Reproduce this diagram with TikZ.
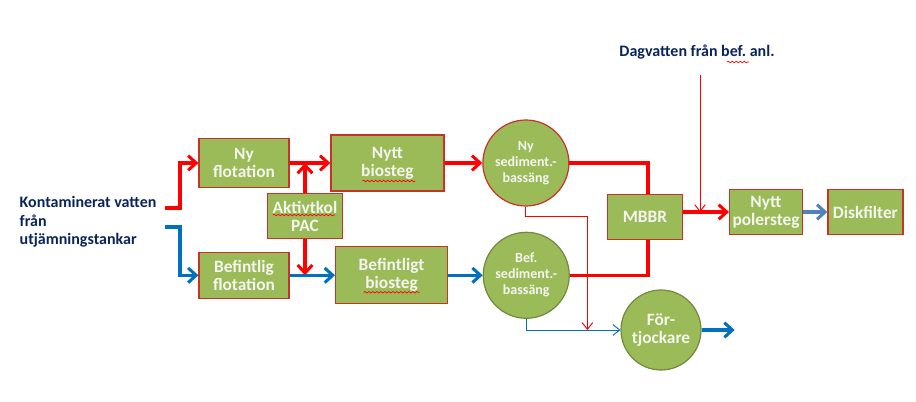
\documentclass[tikz,border=0pt]{standalone}
\usepackage{fontspec}
\setmainfont{Carlito}
\usepackage{tikz}
\usetikzlibrary{arrows.meta,positioning,calc,decorations.pathmorphing}
\frenchspacing
\definecolor{olive}{RGB}{155,187,89}
\definecolor{olivedark}{RGB}{113,137,63}
\definecolor{boxred}{RGB}{200,50,40}
\definecolor{flowred}{RGB}{255,0,0}
\definecolor{flowblue}{RGB}{0,112,192}
\definecolor{steel}{RGB}{79,129,189}
\definecolor{navy}{RGB}{10,35,90}
\definecolor{offwhite}{RGB}{245,245,240}
\tikzstyle{unit}=[draw=boxred, line width=0.9pt, fill=olive, text=offwhite, align=center, inner sep=0pt, font=\bfseries\fontsize{13}{13.5}\selectfont]
\tikzstyle{basin}=[circle, draw=olivedark, line width=0.9pt, fill=olive, text=offwhite, align=center, inner sep=0pt, minimum size=64.5pt, font=\bfseries\fontsize{10.5}{12}\selectfont]
\tikzstyle{label}=[text=navy, align=left, font=\bfseries\fontsize{12}{14}\selectfont]
\tikzstyle{redflow}=[draw=flowred, line width=2.3pt, -{Straight Barb[length=6pt,width=11pt]}]
\tikzstyle{blueflow}=[draw=flowblue, line width=2.3pt, -{Straight Barb[length=6pt,width=11pt]}]
\tikzstyle{thinred}=[draw=flowred, line width=0.7pt, -{Straight Barb[length=5pt,width=8pt]}]
\tikzstyle{thinblue}=[draw=flowblue, line width=0.7pt, -{Straight Barb[length=5pt,width=8pt]}]
\tikzstyle{squig}=[draw=red, line width=0.5pt, decorate, decoration={snake, segment length=3pt, amplitude=0.6pt}]

\begin{document}
\begin{tikzpicture}[x=0.75pt,y=-0.75pt]
    \useasboundingbox (0,0) rectangle (916,402);
    % upper line (new plant)
    \node [unit, minimum width=67.5pt, minimum height=36.75pt] (nyflot) at (244,163) {Ny\\flotation};
    \node [unit, minimum width=84.75pt, minimum height=42pt] (nybio) [right of=nyflot,node distance=3.78cm] {Nytt\\biosteg};
    \node [basin, draw=boxred] (nysed) [right of=nybio,node distance=3.65cm] {Ny\\sediment.-\\bassäng};
    % lower line (existing plant)
    \node [unit, minimum width=67.5pt, minimum height=34.5pt] (befflot) [below of=nyflot,node distance=2.96cm] {Befintlig\\flotation};
    \node [unit, minimum width=84pt, minimum height=42.75pt] (befbio) [right of=befflot,node distance=3.89cm] {Befintligt\\biosteg};
    \node [basin] (befsed) [right of=befbio,node distance=3.55cm] {Bef.\\sediment.-\\bassäng};
    \node [unit, minimum width=56.25pt, minimum height=33.75pt] (pac) at (305,216) {Aktivtkol\\PAC};
    % common part
    \node [unit, minimum width=56.25pt, minimum height=33.75pt] (mbbr) at (645,217) {MBBR};
    \node [unit, minimum width=54.75pt, minimum height=33.75pt] (poler) at (766,212) {Nytt\\polersteg};
    \node [unit, minimum width=56.25pt, minimum height=33.75pt] (disk) [right of=poler,node distance=2.62cm] {Diskfilter};
    \node [basin, minimum size=60pt, font=\bfseries\fontsize{13}{13.5}\selectfont] (fortj) at (661,330) {För-\\tjockare};
    \node [label, anchor=west] (inflow) at (15,222) {Kontaminerat vatten\\från\\utjämningstankar};
    \node [label] (dagv) at (697,52) {Dagvatten från bef. anl.};
    \coordinate (inred) at (165,208);
    \coordinate (inblue) at (165,227);
    \coordinate (dagtop) at (700,75);
    \coordinate (sludge) at ($(fortj.east)+(33,0)$);
    % flows
    \path[redflow] (inred) -- ++(15,0) |- (nyflot.west);
    \path[blueflow] (inblue) -- ++(15,0) |- (befflot.west);
    \path[redflow] (nyflot) -- (nybio);
    \path[redflow] (pac.north) -- (pac.north |- nyflot);
    \path[redflow] (pac.south) -- (pac.south |- befflot);
    \path[blueflow] (befflot) -- (befbio);
    \path[redflow] (nybio) -- (nysed);
    \path[blueflow] (befbio.east |- befsed) -- (befsed);
    \path[draw=flowred, line width=2.3pt] (nysed.east) -| ($(mbbr.north)+(3,0)$);
    \path[draw=flowred, line width=2.3pt] (befsed.east) -| ($(mbbr.south)+(3,0)$);
    \path[redflow] (mbbr.east |- poler) -- (poler.west);
    \path[thinred] (dagtop) -- (dagtop |- poler);
    \path[draw=steel, line width=2.3pt, -{Straight Barb[length=6pt,width=11pt]}] (poler) -- (disk);
    \path[thinred] (nysed.south) -- ++(0,10) -| ($(fortj.west)+(-33,0)$);
    \path[thinblue] (befsed.south) |- (fortj.west);
    \path[blueflow] (fortj.east) -- (sludge);
    % spelling marks
    \path[squig] ($(pac)+(-32,-1)$) -- ++(62,0);
    \path[squig] ($(nybio)+(-25,18)$) -- ++(53,0);
    \path[squig] ($(befbio)+(-28,17)$) -- ++(56,0);
    \path[squig] (727,62) -- (749,62);
\end{tikzpicture}
\end{document}
